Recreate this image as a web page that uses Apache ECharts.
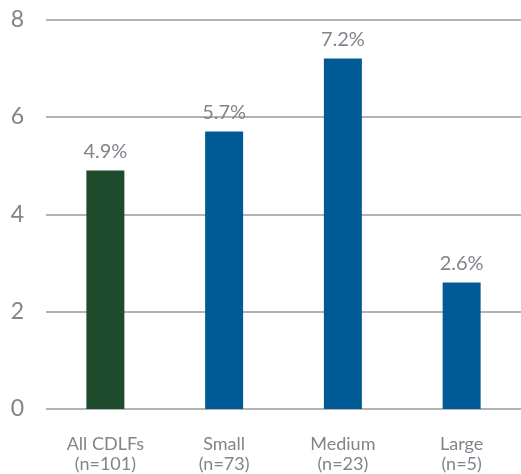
<!DOCTYPE html>
<html><head><meta charset="utf-8">
<script src="https://cdn.jsdelivr.net/npm/echarts@6/dist/echarts.min.js"></script>
<style>html,body{margin:0;padding:0;background:#fff}#c{width:521px;height:474px}</style>
</head><body><div id="c"></div>
<script>
const categories = ['All CDLFs\n(n=101)', 'Small\n(n=73)', 'Medium\n(n=23)', 'Large\n(n=5)'];
const values = [4.9, 5.7, 7.2, 2.6];
const barColors = ['#1e4b2b', '#005a96', '#005a96', '#005a96'];
const yTicks = [0, 2, 4, 6, 8];

const chart = echarts.init(document.getElementById('c'));
chart.setOption({
  animation: false,
  grid: { left: 46, top: 19.5, width: 480, height: 391, containLabel: false },
  xAxis: {
    type: 'category', data: categories,
    axisLine: { show: false }, axisTick: { show: false },
    axisLabel: { color: '#7f858b', fontSize: 18, fontFamily: 'Lato', lineHeight: 20, margin: 25 }
  },
  yAxis: {
    type: 'value', min: yTicks[0], max: yTicks[yTicks.length - 1], interval: 2,
    axisLine: { show: false }, axisTick: { show: false },
    axisLabel: { color: '#7f858b', fontSize: 23, fontFamily: 'Lato', margin: 22 },
    splitLine: { lineStyle: { color: '#9a9a9a', width: 1.5 } }
  },
  series: [{
    type: 'bar', barWidth: 38,
    data: values.map((v, i) => ({ value: v, itemStyle: { color: barColors[i] } })),
    label: { show: true, position: 'top', distance: 9, color: '#7f858b', fontSize: 20, fontFamily: 'Lato',
      formatter: p => p.value.toFixed(1) + '%' }
  }]
});
</script></body></html>
